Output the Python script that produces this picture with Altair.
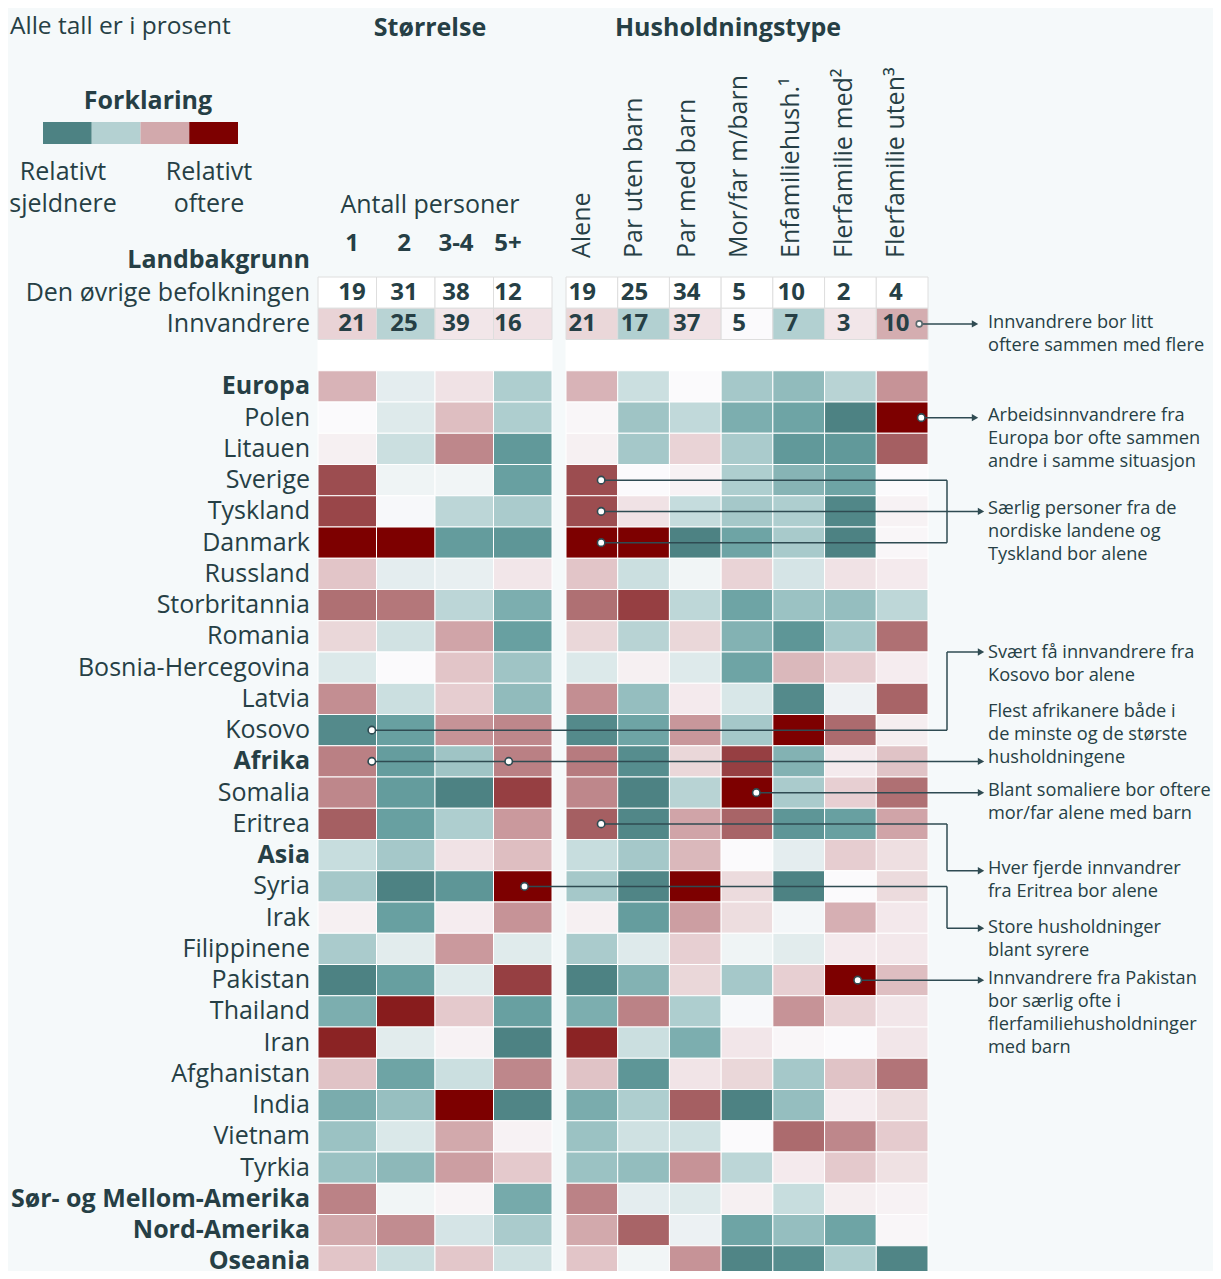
import altair as alt
import pandas as pd

FONT = "Open Sans"
TEXT = "#263f45"
LINE = "#2f4b52"
BG = "#f5f9fa"

# ---------------- data ----------------
size_cols = ["1", "2", "3-4", "5+"]
hh_cols = ["Alene", "Par uten barn", "Par med barn", "Mor/far m/barn",
           "Enfamiliehush.¹", "Flerfamilie med²", "Flerfamilie uten³"]

ROW_OTHER = "Den øvrige befolkningen"
ROW_IMM = "Innvandrere"
SPACER = " "

countries = ["Europa", "Polen", "Litauen", "Sverige", "Tyskland", "Danmark", "Russland",
             "Storbritannia", "Romania", "Bosnia-Hercegovina", "Latvia", "Kosovo",
             "Afrika", "Somalia", "Eritrea", "Asia", "Syria", "Irak", "Filippinene",
             "Pakistan", "Thailand", "Iran", "Afghanistan", "India", "Vietnam", "Tyrkia",
             "Sør- og Mellom-Amerika", "Nord-Amerika", "Oseania"]
regions = ["Europa", "Afrika", "Asia", "Sør- og Mellom-Amerika", "Nord-Amerika", "Oseania"]

other_size = [19, 31, 38, 12]
other_hh = [19, 25, 34, 5, 10, 2, 4]
imm_size = [21, 25, 39, 16]
imm_hh = [21, 17, 37, 5, 7, 3, 10]
imm_size_dev = [0.20, -0.35, 0.10, 0.12]
imm_hh_dev = [0.18, -0.38, 0.12, 0.0, -0.38, 0.10, 0.38]

# relative deviation index (-1 = relativt sjeldnere, +1 = relativt oftere)
size_dev = [
    [0.35, -0.12, 0.12, -0.40],
    [0.00, -0.15, 0.30, -0.40],
    [0.05, -0.25, 0.55, -0.80],
    [0.78, -0.06, -0.05, -0.75],
    [0.80, -0.02, -0.33, -0.42],
    [1.00, 1.00, -0.78, -0.82],
    [0.27, -0.12, -0.10, 0.10],
    [0.65, 0.62, -0.33, -0.65],
    [0.18, -0.22, 0.42, -0.75],
    [-0.16, 0.00, 0.27, -0.48],
    [0.52, -0.25, 0.23, -0.55],
    [-0.90, -0.75, 0.50, 0.55],
    [0.58, -0.77, -0.48, 0.58],
    [0.55, -0.78, -0.95, 0.82],
    [0.72, -0.75, -0.40, 0.47],
    [-0.27, -0.45, 0.12, 0.30],
    [-0.45, -0.95, -0.82, 1.00],
    [0.05, -0.75, 0.07, 0.50],
    [-0.42, -0.13, 0.47, -0.14],
    [-0.95, -0.76, -0.14, 0.82],
    [-0.65, 0.92, 0.25, -0.75],
    [0.90, -0.13, 0.04, -0.95],
    [0.28, -0.72, -0.25, 0.55],
    [-0.66, -0.52, 1.00, -0.93],
    [-0.50, -0.17, 0.40, 0.04],
    [-0.50, -0.57, 0.45, 0.25],
    [0.57, -0.05, 0.03, -0.68],
    [0.40, 0.53, -0.20, -0.42],
    [0.27, -0.25, 0.26, -0.23],
]
hh_dev = [
    [0.35, -0.25, 0.00, -0.45, -0.55, -0.35, 0.50],
    [0.02, -0.48, -0.30, -0.65, -0.72, -0.95, 1.00],
    [0.05, -0.45, 0.20, -0.42, -0.80, -0.80, 0.72],
    [0.78, 0.00, 0.04, -0.40, -0.60, -0.72, 0.00],
    [0.78, 0.12, -0.28, -0.45, -0.40, -0.92, 0.04],
    [1.00, 1.00, -0.95, -0.72, -0.43, -0.95, 0.02],
    [0.27, -0.25, -0.05, 0.20, -0.20, 0.12, 0.08],
    [0.65, 0.82, -0.32, -0.72, -0.50, -0.53, -0.32],
    [0.18, -0.35, 0.18, -0.62, -0.82, -0.45, 0.65],
    [-0.16, 0.05, -0.15, -0.72, 0.33, 0.23, 0.07],
    [0.52, -0.53, 0.08, -0.18, -0.90, -0.07, 0.70],
    [-0.90, -0.72, 0.48, -0.45, 1.00, 0.67, 0.06],
    [0.60, -0.88, 0.18, 0.82, -0.62, 0.08, 0.28],
    [0.55, -0.95, -0.35, 1.00, -0.42, 0.22, 0.65],
    [0.72, -0.92, 0.42, 0.70, -0.82, -0.75, 0.42],
    [-0.27, -0.45, 0.33, 0.00, -0.12, 0.23, 0.14],
    [-0.45, -0.93, 1.00, 0.16, -0.95, 0.00, 0.16],
    [0.05, -0.77, 0.45, 0.15, -0.04, 0.37, 0.09],
    [-0.42, -0.15, 0.22, -0.06, -0.13, 0.08, 0.09],
    [-0.95, -0.62, 0.18, -0.45, 0.22, 1.00, 0.30],
    [-0.65, 0.57, -0.40, -0.02, 0.50, 0.20, 0.10],
    [0.90, -0.25, -0.65, 0.10, 0.02, 0.00, 0.10],
    [0.28, -0.82, 0.11, 0.18, -0.45, 0.28, 0.63],
    [-0.66, -0.40, 0.72, -0.95, -0.53, 0.07, 0.15],
    [-0.50, -0.23, -0.23, 0.00, 0.67, 0.55, 0.24],
    [-0.50, -0.54, 0.50, -0.33, 0.08, 0.25, 0.13],
    [0.57, -0.12, -0.15, 0.05, -0.27, 0.06, 0.04],
    [0.40, 0.70, -0.08, -0.72, -0.53, -0.72, 0.02],
    [0.27, -0.05, 0.50, -0.93, -0.88, -0.40, -0.93],
]

legend_keys = ["a", "b", "c", "d"]
legend_vals = [-0.95, -0.37, 0.40, 1.00]

rows = [ROW_OTHER, ROW_IMM, SPACER] + countries

# ---------------- scales ----------------
yscale = alt.Scale(type="band", domain=rows, range=[0, 1000], paddingInner=0, paddingOuter=0)
xs_cell = alt.Scale(type="band", domain=size_cols, range=[0, 234], paddingInner=0, paddingOuter=0)
xh_cell = alt.Scale(type="band", domain=hh_cols, range=[248, 610], paddingInner=0, paddingOuter=0)
xs_txt = alt.Scale(type="band", domain=size_cols, range=[8, 216], paddingInner=0, paddingOuter=0)
xh_txt = alt.Scale(type="band", domain=hh_cols, range=[238, 604], paddingInner=0, paddingOuter=0)
leg_x = alt.Scale(type="band", domain=legend_keys, range=[-275, -80], paddingInner=0, paddingOuter=0)
cscale = alt.Scale(domain=[-1, -0.75, -0.5, -0.25, 0, 0.25, 0.5, 0.75, 1],
                   range=["#467b7c", "#68a0a1", "#9bc2c3", "#cbdfe0", "#fbfafc",
                          "#e4c9cc", "#c69397", "#a0585b", "#7d0000"],
                   interpolate="rgb")

Y = lambda f="row:N", **kw: alt.Y(f, scale=yscale, axis=None, **kw)

# ---------------- tables ----------------
def cell_table(cols, devs):
    recs = []
    for i, c in enumerate(countries):
        for j, col in enumerate(cols):
            recs.append({"row": c, "col": col, "dev": devs[i][j]})
    return pd.DataFrame(recs)

size_cells = cell_table(size_cols, size_dev)
hh_cells = cell_table(hh_cols, hh_dev)

size_top = pd.DataFrame({"row": [ROW_OTHER] * 4 + [ROW_IMM] * 4, "col": size_cols * 2,
                         "num": other_size + imm_size, "dev": [0] * 4 + imm_size_dev})
hh_top = pd.DataFrame({"row": [ROW_OTHER] * 7 + [ROW_IMM] * 7, "col": hh_cols * 2,
                       "num": other_hh + imm_hh, "dev": [0] * 7 + imm_hh_dev})

layers = []

def cells(df, xs, stroke, fill_white=False):
    if fill_white:
        m = alt.Chart(df).mark_rect(fill="white", stroke=stroke, strokeWidth=1)
        return m.encode(x=alt.X("col:N", scale=xs, axis=None), y=Y())
    return alt.Chart(df).mark_rect(stroke=stroke, strokeWidth=1).encode(
        x=alt.X("col:N", scale=xs, axis=None), y=Y(),
        color=alt.Color("dev:Q", scale=cscale, legend=None))

for cols, xs, cdf, top in [(size_cols, xs_cell, size_cells, size_top),
                           (hh_cols, xh_cell, hh_cells, hh_top)]:
    spacer = pd.DataFrame({"row": [SPACER] * len(cols), "col": cols})
    layers.append(cells(spacer, xs, "white", fill_white=True))
    layers.append(cells(cdf, xs, "white"))
    layers.append(cells(top[top.row == ROW_OTHER], xs, "#dedede", fill_white=True))
    layers.append(cells(top[top.row == ROW_IMM], xs, "#dedede"))

# numbers in top rows
for top, xs in [(size_top, xs_txt), (hh_top, xh_txt)]:
    layers.append(alt.Chart(top).mark_text(font=FONT, fontSize=24, fontWeight="bold", color=TEXT).encode(
        x=alt.X("col:N", scale=xs, axis=None), y=Y(), text="num:Q"))

# column headers
layers.append(alt.Chart(pd.DataFrame({"col": size_cols})).mark_text(
    font=FONT, fontSize=24, fontWeight="bold", color=TEXT, baseline="middle").encode(
    x=alt.X("col:N", scale=xs_txt, axis=None), y=alt.value(-33), text="col:N"))
layers.append(alt.Chart(pd.DataFrame({"col": hh_cols})).mark_text(
    font=FONT, fontSize=25, color=TEXT, angle=270, align="left", baseline="middle").encode(
    x=alt.X("col:N", scale=xh_txt, axis=None), y=alt.value(-19), text="col:N"))

# row labels
label_rows = [ROW_OTHER, ROW_IMM] + countries
lab = pd.DataFrame({"row": label_rows, "bold": [r in regions for r in label_rows]})
for is_bold in (False, True):
    layers.append(alt.Chart(lab[lab.bold == is_bold]).mark_text(
        font=FONT, fontSize=25, fontWeight="bold" if is_bold else "normal", color=TEXT,
        align="right", baseline="middle").encode(x=alt.value(-8), y=Y(), text="row:N"))

# static texts
def static_text(txt, x, y, size=25, weight="normal", align="left", baseline="middle", lh=None):
    props = dict(font=FONT, fontSize=size, fontWeight=weight, color=TEXT, align=align, baseline=baseline)
    if lh:
        props.update(lineBreak="\n", lineHeight=lh)
    return alt.Chart(pd.DataFrame({"t": [txt]})).mark_text(**props).encode(
        x=alt.value(x), y=alt.value(y), text="t:N")

layers += [
    static_text("Alle tall er i prosent", -308, -250, size=24.5),
    static_text("Størrelse", 112, -249, weight="bold", align="center"),
    static_text("Husholdningstype", 410, -249, weight="bold", align="center"),
    static_text("Forklaring", -170, -176, weight="bold", align="center"),
    static_text("Relativt\nsjeldnere", -255, -117, align="center", baseline="top", lh=32),
    static_text("Relativt\noftere", -109, -117, align="center", baseline="top", lh=32),
    static_text("Antall personer", 112, -72, align="center"),
    static_text("Landbakgrunn", -8, -17, weight="bold", align="right"),
]

# legend swatches
layers.append(alt.Chart(pd.DataFrame({"k": legend_keys, "dev": legend_vals})).mark_rect().encode(
    x=alt.X("k:N", scale=leg_x, axis=None), y=alt.value(-155), y2=alt.value(-133),
    color=alt.Color("dev:Q", scale=cscale, legend=None)))

# ---------------- annotations ----------------
CX = 629      # vertical connector
AX_NEAR = 657
AX = 663
TX = 670

def hrule_cell(row, col, xs, bp, x_end):
    return alt.Chart(pd.DataFrame({"row": [row], "col": [col]})).mark_rule(
        color=LINE, strokeWidth=1.5).encode(
        x=alt.X("col:N", scale=xs, axis=None, bandPosition=bp), x2=alt.value(x_end), y=Y())

def hrule_px(row, bp, x1, x2):
    return alt.Chart(pd.DataFrame({"row": [row]})).mark_rule(color=LINE, strokeWidth=1.5).encode(
        x=alt.value(x1), x2=alt.value(x2), y=Y(bandPosition=bp))

def vrule(row_a, bp_a, row_b):
    return alt.Chart(pd.DataFrame({"a": [row_a], "b": [row_b]})).mark_rule(
        color=LINE, strokeWidth=1.5).encode(
        x=alt.value(CX), y=Y("a:N", bandPosition=bp_a), y2="b:N")

def arrow(row, bp, x):
    return alt.Chart(pd.DataFrame({"row": [row]})).mark_point(
        shape="triangle-right", filled=True, color=LINE, size=55, opacity=1).encode(
        x=alt.value(x), y=Y(bandPosition=bp))

def dot(row, col, xs, bp, size=55, stroke=LINE):
    return alt.Chart(pd.DataFrame({"row": [row], "col": [col]})).mark_circle(
        color="white", stroke=stroke, strokeWidth=1.6, size=size, opacity=1).encode(
        x=alt.X("col:N", scale=xs, axis=None, bandPosition=bp), y=Y())

def note(txt, row, bp, dy):
    return alt.Chart(pd.DataFrame({"row": [row], "t": [txt]})).mark_text(
        font=FONT, fontSize=18.2, color=TEXT, align="left", baseline="top",
        lineBreak="\n", lineHeight=23, dy=-9 + dy).encode(
        x=alt.value(TX), y=Y(bandPosition=bp), text="t:N")

UTEN, MED, ALENE, MORFAR = hh_cols[6], hh_cols[5], hh_cols[0], hh_cols[3]

ann = []
# 1 Innvandrere
ann += [hrule_cell(ROW_IMM, UTEN, xh_cell, 0.83, AX_NEAR), arrow(ROW_IMM, 0.5, AX_NEAR)]
# 2 Polen
ann += [hrule_cell("Polen", UTEN, xh_cell, 0.87, AX_NEAR), arrow("Polen", 0.5, AX_NEAR)]
# 3 Nordic
for r in ["Sverige", "Tyskland", "Danmark"]:
    ann.append(hrule_cell(r, ALENE, xh_cell, 0.68, CX))
ann += [vrule("Sverige", 0.5, "Danmark"), hrule_px("Tyskland", 0.5, CX, AX), arrow("Tyskland", 0.5, AX)]
# 4 Kosovo
ann += [hrule_cell("Kosovo", "1", xs_cell, 0.92, CX), vrule("Bosnia-Hercegovina", 0, "Kosovo"),
        hrule_px("Bosnia-Hercegovina", 0, CX, AX), arrow("Bosnia-Hercegovina", 0, AX)]
# 5 Afrika
ann += [hrule_cell("Afrika", "1", xs_cell, 0.92, AX), arrow("Afrika", 0.5, AX)]
# 6 Somalia
ann += [hrule_cell("Somalia", MORFAR, xh_cell, 0.68, AX), arrow("Somalia", 0.5, AX)]
# 7 Eritrea
ann += [hrule_cell("Eritrea", ALENE, xh_cell, 0.68, CX), vrule("Syria", 0, "Eritrea"),
        hrule_px("Syria", 0, CX, AX), arrow("Syria", 0, AX)]
# 8 Syria
ann += [hrule_cell("Syria", "5+", xs_cell, 0.53, CX), vrule("Irak", 0.84, "Syria"),
        hrule_px("Irak", 0.84, CX, AX), arrow("Irak", 0.84, AX)]
# 9 Pakistan
ann += [hrule_cell("Pakistan", MED, xh_cell, 0.64, AX), arrow("Pakistan", 0.5, AX)]

# dots
ann += [
    dot(ROW_IMM, UTEN, xh_cell, 0.83, size=35, stroke="#5a6a6e"),
    dot("Polen", UTEN, xh_cell, 0.87),
    dot("Sverige", ALENE, xh_cell, 0.68),
    dot("Tyskland", ALENE, xh_cell, 0.68),
    dot("Danmark", ALENE, xh_cell, 0.68),
    dot("Kosovo", "1", xs_cell, 0.92),
    dot("Afrika", "1", xs_cell, 0.92),
    dot("Afrika", "5+", xs_cell, 0.26),
    dot("Somalia", MORFAR, xh_cell, 0.68),
    dot("Eritrea", ALENE, xh_cell, 0.68),
    dot("Syria", "5+", xs_cell, 0.53),
    dot("Pakistan", MED, xh_cell, 0.64),
]

# texts
ann += [
    note("Innvandrere bor litt\noftere sammen med flere", ROW_IMM, 0.5, -1),
    note("Arbeidsinnvandrere fra\nEuropa bor ofte sammen\nandre i samme situasjon", "Polen", 0.5, -2),
    note("Særlig personer fra de\nnordiske landene og\nTyskland bor alene", "Tyskland", 0.5, -2),
    note("Svært få innvandrere fra\nKosovo bor alene", "Bosnia-Hercegovina", 0, 1),
    note("Flest afrikanere både i\nde minste og de største\nhusholdningene", "Afrika", 0.5, -49),
    note("Blant somaliere bor oftere\nmor/far alene med barn", "Somalia", 0.5, -1.5),
    note("Hver fjerde innvandrer\nfra Eritrea bor alene", "Syria", 0, -2),
    note("Store husholdninger\nblant syrere", "Irak", 0.84, 0),
    note("Innvandrere fra Pakistan\nbor særlig ofte i\nflerfamiliehusholdninger\nmed barn", "Pakistan", 0.5, -1),
]
layers += ann

chart = alt.layer(*layers).resolve_scale(x="independent").properties(
    width=895, height=994,
    padding={"left": 310, "top": 269, "right": 0, "bottom": 0},
    autosize=alt.AutoSizeParams(type="none"),
    background=BG,
).configure_view(stroke=None)

chart.save("out.html", embed_options={"renderer": "svg", "actions": False})
